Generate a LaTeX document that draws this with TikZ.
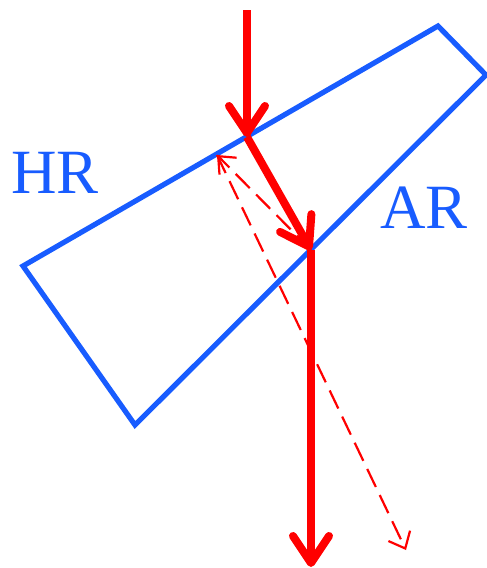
\documentclass[tikz,border=0pt]{standalone}
\usepackage{fontspec}
\setmainfont{Liberation Serif}
\usetikzlibrary{arrows.meta}
\definecolor{mirrorblue}{RGB}{24,92,255}
\tikzset{
    mirror/.style={draw=mirrorblue, line width=5.2pt, line join=miter},
    beam/.style={draw=red, line width=8pt, -{Straight Barb[length=27pt,width=36pt,line width=8pt,round]}},
    ghost/.style={draw=red, line width=2.2pt, dash pattern=on 20pt off 9pt, -{Straight Barb[length=14pt,width=24pt,line width=2.2pt]}},
    coating/.style={text=mirrorblue, font=\fontsize{63}{63}\selectfont, inner sep=0pt, anchor=base west},
}
\begin{document}
\begin{tikzpicture}[x=1pt, y=-1pt]
    \useasboundingbox (0,0) rectangle (487,568);
    \coordinate (wedgeA) at (23,266);
    \coordinate (wedgeB) at (438,26);
    \coordinate (wedgeC) at (486,75);
    \coordinate (wedgeD) at (135,425);
    \coordinate (start) at (247,10);
    \coordinate (front) at (247,137);
    \coordinate (back) at (311,250);
    \coordinate (out) at (311,567);
    \coordinate (hit) at (217,155);
    \coordinate (ghostend) at (406,550);
    \draw[mirror] (wedgeA) -- (wedgeB) -- (wedgeC) -- (wedgeD) -- cycle;
    \draw[ghost] (back) -- (hit);
    \draw[ghost] (hit) -- (ghostend);
    \draw[beam] (start) -- (front);
    \draw[beam] (front) -- (back);
    \draw[beam] (back) -- (out);
    \node[coating] (hr) at (11,193) {HR};
    \node[coating] (ar) at (380,228) {AR};
\end{tikzpicture}
\end{document}
